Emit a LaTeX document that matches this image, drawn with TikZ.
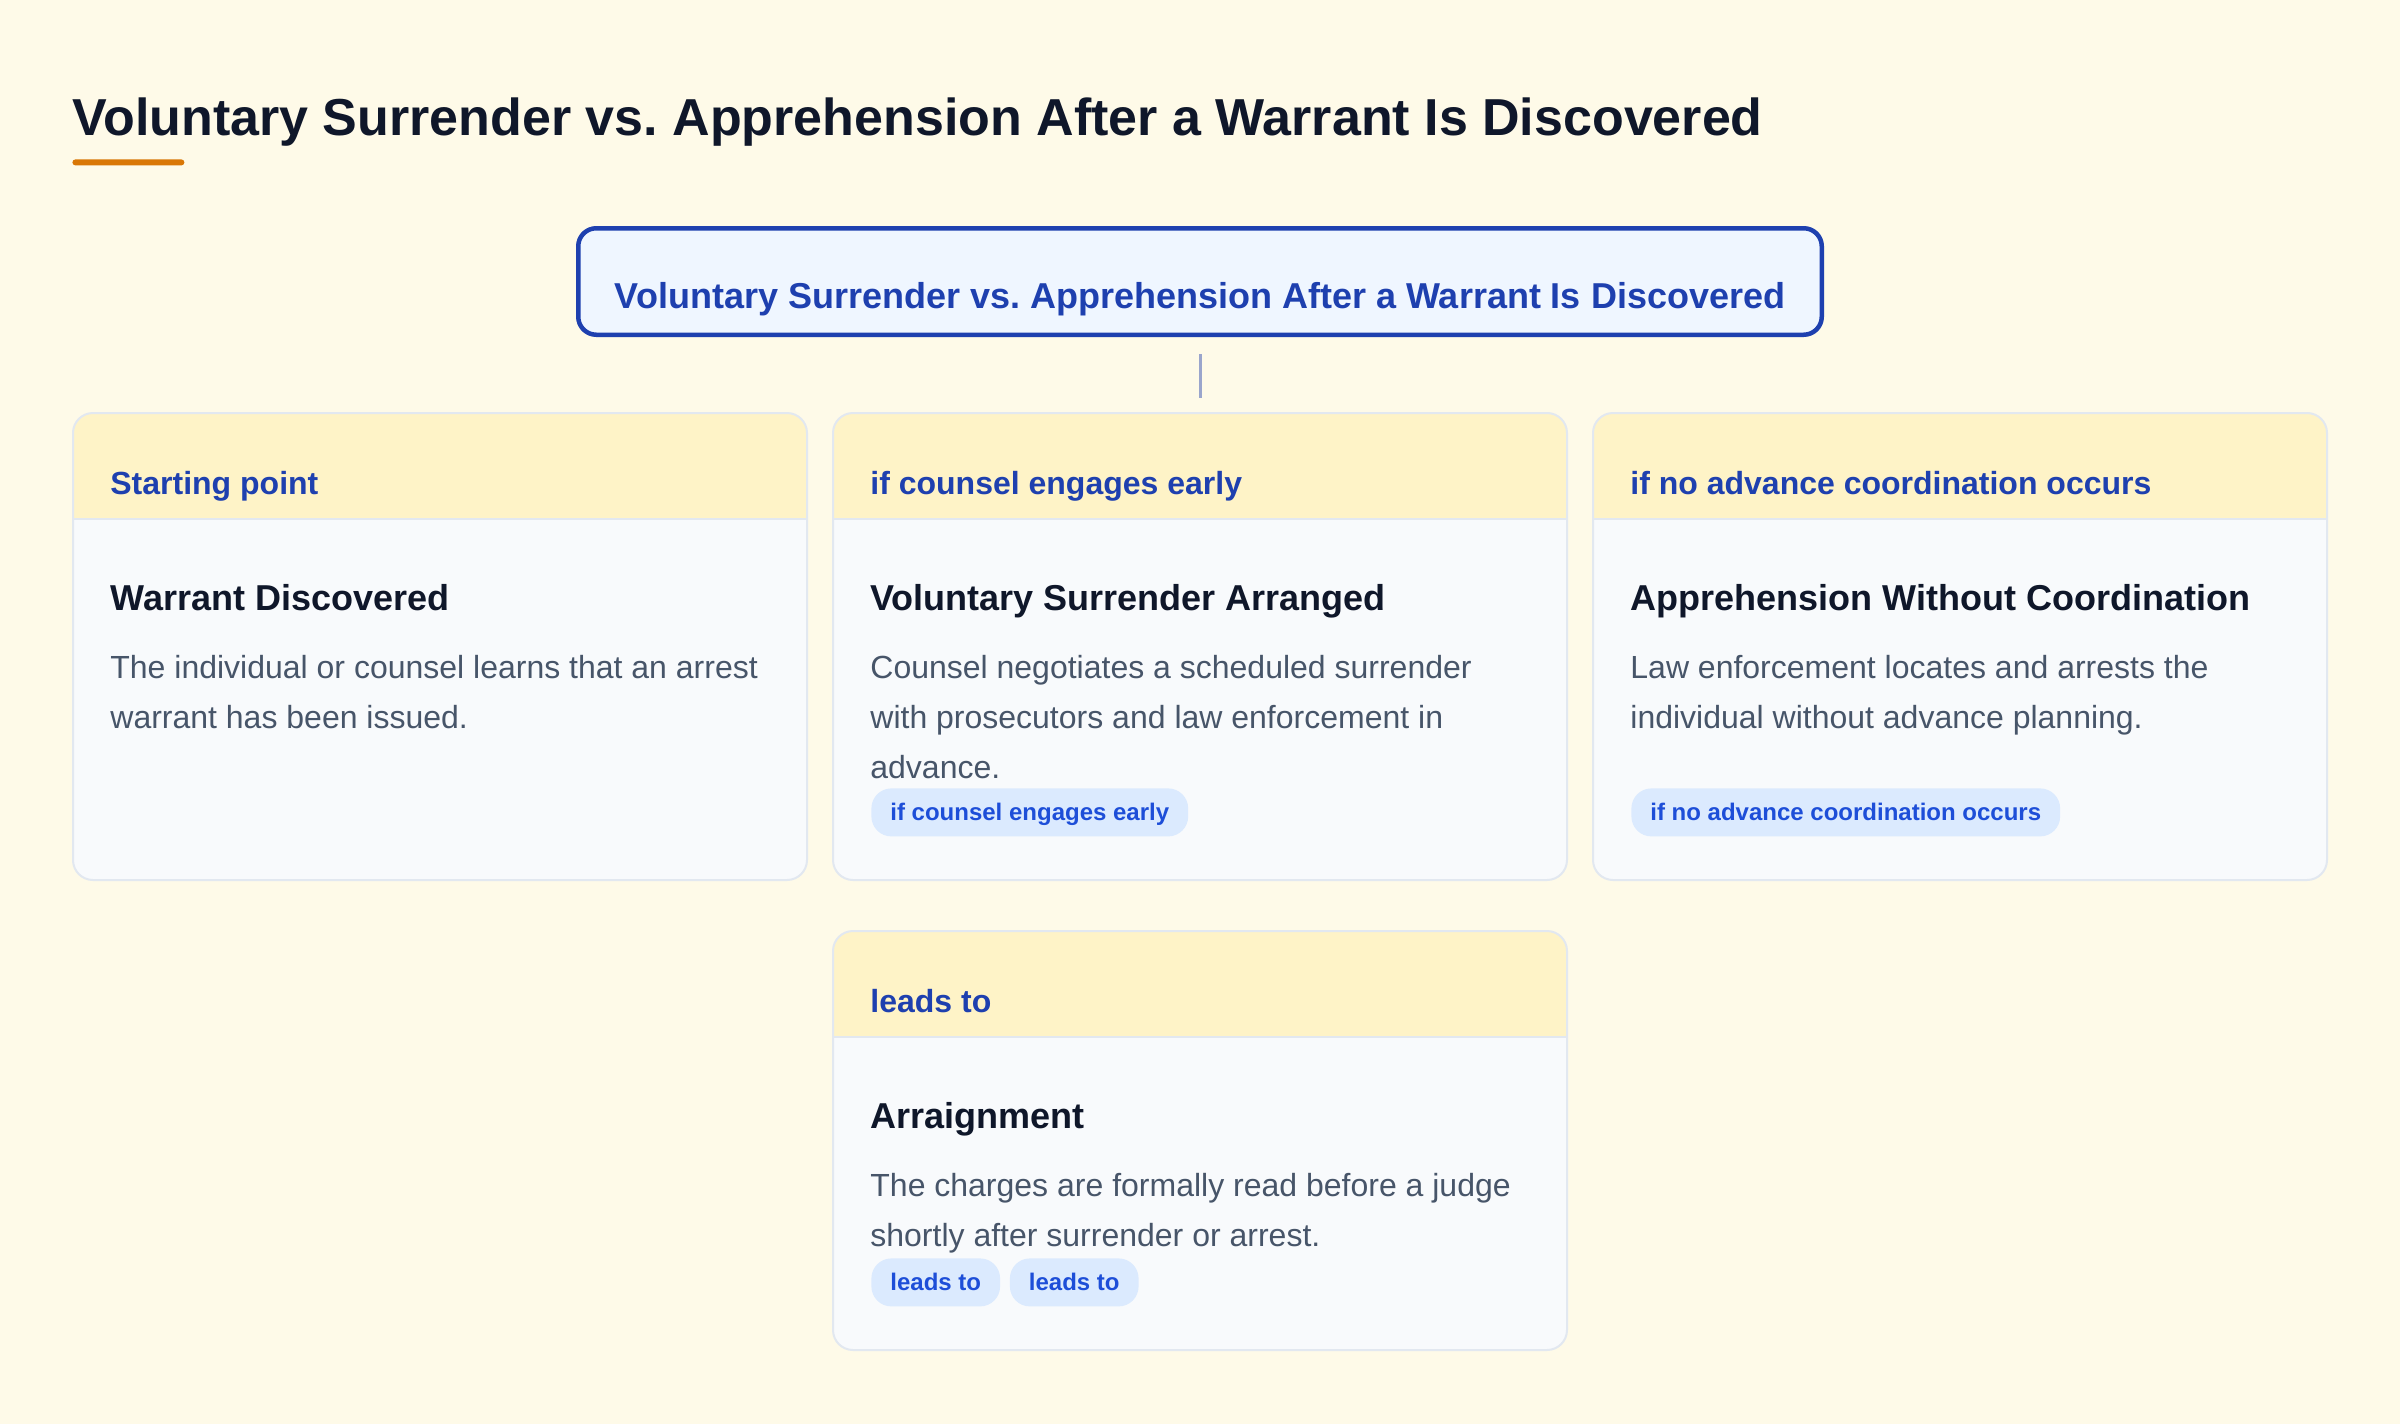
\documentclass[tikz,border=0pt]{standalone}
\usepackage{fontspec}
\setmainfont{Liberation Sans}
\usetikzlibrary{positioning,calc}
\frenchspacing

\definecolor{pagebg}{HTML}{FEFAE8}
\definecolor{ink}{HTML}{0F172A}
\definecolor{bodyink}{HTML}{475569}
\definecolor{navy}{HTML}{1E40AF}
\definecolor{pillink}{HTML}{1D4ED8}
\definecolor{pillfill}{HTML}{DBEAFE}
\definecolor{hdrfill}{HTML}{FEF3C7}
\definecolor{cardfill}{HTML}{F8FAFC}
\definecolor{cardline}{HTML}{E2E8F0}
\definecolor{rootfill}{HTML}{EFF6FF}
\definecolor{accent}{HTML}{D97706}
\definecolor{linkline}{HTML}{9AA5CC}

\begin{document}
\begin{tikzpicture}[
        x=0.5pt, y=-0.5pt,
        card/.style={fill=cardfill, rounded corners=10pt, minimum width=367pt, minimum height=233.5pt, inner sep=0pt, outer sep=0pt},
        root/.style={draw=navy, line width=2.25pt, fill=rootfill, rounded corners=9pt, minimum width=621.75pt, minimum height=53.25pt,
                     text height=28pt, text depth=1.5pt, font=\fontsize{18}{18}\selectfont\bfseries, text=navy},
        hdrtext/.style={anchor=base west, inner sep=0pt, font=\fontsize{16}{16}\selectfont\bfseries, text=navy},
        cardtitle/.style={anchor=base west, inner sep=0pt, font=\fontsize{18}{18}\selectfont\bfseries, text=ink},
        cardbody/.style={anchor=base west, inner sep=0pt, align=left, font=\fontsize{16}{25}\selectfont, text=bodyink},
        pill/.style={anchor=north west, fill=pillfill, rounded corners=10pt, inner xsep=9.5pt, inner ysep=0pt, minimum height=24pt,
                     text height=10pt, text depth=2pt, font=\fontsize{12}{12}\selectfont\bfseries, text=pillink},
        link/.style={draw=linkline, line width=1.5pt, shorten <=8.5pt, shorten >=7.5pt}
      ]

      \path[use as bounding box, fill=pagebg] (0,0) rectangle (2400,1424);

      % heading
      \node (title) [anchor=base west, inner sep=0pt, font=\fontsize{26}{26}\selectfont\bfseries, text=ink] at (72,135)
        {Voluntary Surrender vs. Apprehension After a Warrant Is Discovered};
      \node (bar) [anchor=north west, fill=accent, rounded corners=1.5pt, minimum width=56pt, minimum height=3pt, inner sep=0pt] at (72,159) {};

      % cards
      \node (c1) [card, anchor=north west] at (73,413) {};
      \node (c2) [card, right=13pt of c1] {};
      \node (c3) [card, right=13pt of c2] {};
      \node (c4) [card, minimum height=209.5pt, below=25.5pt of c2] {};

      \foreach \cn in {c1,c2,c3,c4} {
        \begin{scope}
          \clip[rounded corners=10pt] (\cn.north west) rectangle (\cn.south east);
          \fill[hdrfill] (\cn.north west) rectangle ([yshift=-53pt]\cn.north east);
        \end{scope}
        \draw[cardline, line width=1pt] ([yshift=-53pt]\cn.north west) -- ([yshift=-53pt]\cn.north east);
        \draw[cardline, line width=1pt, rounded corners=10pt] (\cn.north west) rectangle (\cn.south east);
      }

      \node (root) [root, above=38pt of c2] {Voluntary Surrender vs. Apprehension After a Warrant Is Discovered};
      \draw[link] (root.south) -- (c2.north);

      % base of a body text is its last line
      \node (h1) [hdrtext] at ([shift={(37,81)}]c1.north west) {Starting point};
      \node (t1) [cardtitle] at ([shift={(37,197)}]c1.north west) {Warrant Discovered};
      \node (b1) [cardbody] at ([shift={(37,315)}]c1.north west) {The individual or counsel learns that an arrest\\warrant has been issued.};

      \node (h2) [hdrtext] at ([shift={(37,81)}]c2.north west) {if counsel engages early};
      \node (t2) [cardtitle] at ([shift={(37,197)}]c2.north west) {Voluntary Surrender Arranged};
      \node (b2) [cardbody] at ([shift={(37,365)}]c2.north west) {Counsel negotiates a scheduled surrender\\with prosecutors and law enforcement in\\advance.};
      \node (p2) [pill] at ([shift={(38,375)}]c2.north west) {if counsel engages early};

      \node (h3) [hdrtext] at ([shift={(37,81)}]c3.north west) {if no advance coordination occurs};
      \node (t3) [cardtitle] at ([shift={(37,197)}]c3.north west) {Apprehension Without Coordination};
      \node (b3) [cardbody] at ([shift={(37,315)}]c3.north west) {Law enforcement locates and arrests the\\individual without advance planning.};
      \node (p3) [pill] at ([shift={(38,375)}]c3.north west) {if no advance coordination occurs};

      \node (h4) [hdrtext] at ([shift={(37,81)}]c4.north west) {leads to};
      \node (t4) [cardtitle] at ([shift={(37,197)}]c4.north west) {Arraignment};
      \node (b4) [cardbody] at ([shift={(37,315)}]c4.north west) {The charges are formally read before a judge\\shortly after surrender or arrest.};
      \node (p4a) [pill] at ([shift={(38,327)}]c4.north west) {leads to};
      \node (p4b) [pill, right=4.5pt of p4a] {leads to};

    \end{tikzpicture}
\end{document}
